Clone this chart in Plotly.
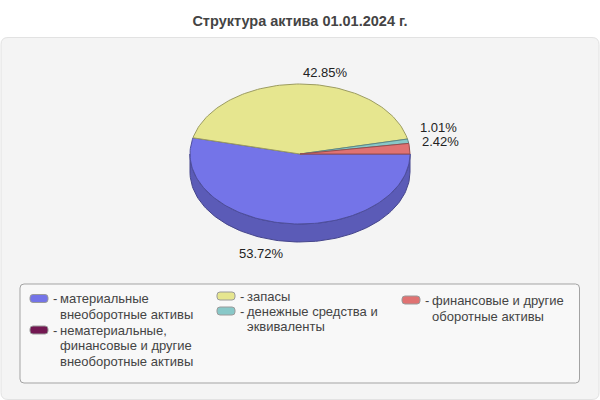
import numpy as np
import plotly.graph_objects as go

# chart data
title = "Структура актива 01.01.2024 г."
categories = [
    ["материальные", "внеоборотные активы"],
    ["нематериальные,", "финансовые и другие", "внеоборотные активы"],
    ["запасы"],
    ["денежные средства и", "эквиваленты"],
    ["финансовые и другие", "оборотные активы"],
]
shares = [53.72, 0.0, 42.85, 1.01, 2.42]
colors = ["#7474e8", "#731852", "#e6e68f", "#88c8c8", "#e07272"]

# pie geometry in pixels (axes are mapped 1:1 to the 600x400 page)
CX, CY, RX, RY, DEPTH = 300, 154, 110, 70, 18
FONT = "Liberation Sans, Arial, sans-serif"

# legend layout: swatch left x, first row centre y, line spacing
leg_x = [30, 30, 217, 217, 402]
leg_y = [298.5, 330, 296, 311, 300]
leg_step = [15.5, 15.5, 15.5, 15.5, 16.5]
# small vertical nudges for the crowded value labels
label_nudge = [0, 0, 0, -12, -6]


def darken(hex_color, k):
    r, g, b = (int(hex_color[i:i + 2], 16) for i in (1, 3, 5))
    return "rgb({},{},{})".format(int(r * k), int(g * k), int(b * k))


def arc(a0, a1, dy=0.0):
    n = max(int(abs(a1 - a0) / 1.5) + 2, 3)
    t = np.radians(np.linspace(a0, a1, n))
    return list(CX + RX * np.cos(t)), list(CY - RY * np.sin(t) + dy)


def rounded_rect(x0, y0, x1, y1, r):
    return (f"M{x0 + r},{y0} L{x1 - r},{y0} Q{x1},{y0} {x1},{y0 + r} "
            f"L{x1},{y1 - r} Q{x1},{y1} {x1 - r},{y1} L{x0 + r},{y1} "
            f"Q{x0},{y1} {x0},{y1 - r} L{x0},{y0 + r} Q{x0},{y0} {x0 + r},{y0} Z")


fig = go.Figure()

# slice angles: start at 3 o'clock, go clockwise
angles = []
start = 360.0
for s in shares:
    end = start - s * 3.6
    angles.append((start, end))
    start = end

# side walls (front half only)
for (a0, a1), s, c in zip(angles, shares, colors):
    if s <= 0:
        continue
    lo, hi = max(a1, 180.0), min(a0, 360.0)
    if hi <= lo:
        continue
    xt, yt = arc(lo, hi)
    xb, yb = arc(hi, lo, DEPTH)
    fig.add_trace(go.Scatter(
        x=xt + xb + [xt[0]], y=yt + yb + [yt[0]], mode="lines", fill="toself",
        fillcolor=darken(c, 0.79), line=dict(color=darken(c, 0.6), width=1),
        hoverinfo="skip", showlegend=False))

# top faces
for (a0, a1), s, c in zip(angles, shares, colors):
    if s <= 0:
        continue
    xs, ys = arc(a0, a1)
    fig.add_trace(go.Scatter(
        x=[CX] + xs + [CX], y=[CY] + ys + [CY], mode="lines", fill="toself",
        fillcolor=c, line=dict(color=darken(c, 0.68), width=1),
        hoverinfo="skip", showlegend=False))

# value labels
for (a0, a1), s, nudge in zip(angles, shares, label_nudge):
    if s <= 0:
        continue
    mid = np.radians((a0 + a1) / 2)
    lx = CX + (RX + 10) * np.cos(mid)
    ly = CY - (RY + 12) * np.sin(mid) + (DEPTH if np.sin(mid) < 0 else 0) + nudge
    fig.add_annotation(x=lx, y=ly, text=f"{s:.2f}%", showarrow=False,
                       xanchor="left" if np.cos(mid) >= 0 else "right",
                       yanchor="middle", font=dict(family=FONT, size=13, color="#222222"))

# panel and legend box
shapes = [
    dict(type="path", path=rounded_rect(1, 37.5, 599, 399.5, 7), xref="x", yref="y",
         fillcolor="#f4f4f4", line=dict(color="#e2e2e2", width=1), layer="below"),
    dict(type="path", path=rounded_rect(20, 284, 579.5, 383, 4), xref="x", yref="y",
         fillcolor="#f8f8f8", line=dict(color="#a3a3a3", width=1), layer="below"),
]
legend_font = dict(family=FONT, size=13, color="#444444")
for lines, c, x, y, step in zip(categories, colors, leg_x, leg_y, leg_step):
    shapes.append(dict(type="path", path=rounded_rect(x, y - 4, x + 18, y + 4, 3),
                       xref="x", yref="y", fillcolor=c,
                       line=dict(color="#9a9a9a", width=1), layer="above"))
    fig.add_annotation(x=x + 21, y=y, text="-", showarrow=False, xanchor="left",
                       yanchor="middle", font=legend_font)
    for i, line in enumerate(lines):
        fig.add_annotation(x=x + 28, y=y + i * step, text=line, showarrow=False,
                           xanchor="left", yanchor="middle", font=legend_font)

fig.update_layout(
    width=600, height=400,
    margin=dict(l=0, r=0, t=0, b=0),
    paper_bgcolor="white", plot_bgcolor="white",
    title=dict(text=f"<b>{title}</b>", x=0.5, xanchor="center", y=1 - 21 / 400,
               yanchor="middle", yref="container",
               font=dict(family=FONT, size=14.5, color="#444444")),
    xaxis=dict(range=[0, 600], visible=False, fixedrange=True),
    yaxis=dict(range=[400, 0], visible=False, fixedrange=True),
    shapes=shapes,
    showlegend=False,
    hovermode=False,
)

fig.write_html("out.html", config={"displayModeBar": False},
               post_script="document.body.style.margin='0';")
